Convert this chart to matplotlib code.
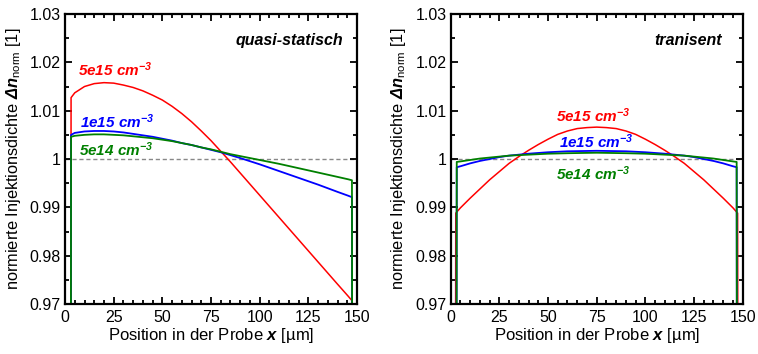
import numpy as np
import matplotlib.pyplot as plt
from matplotlib.ticker import MultipleLocator, FormatStrFormatter

plt.rcParams.update({
    "font.family": ["Liberation Sans", "DejaVu Sans"],
    "mathtext.fontset": "custom",
    "mathtext.rm": "Liberation Sans",
    "mathtext.it": "Liberation Sans:italic",
    "mathtext.bf": "Liberation Sans:bold",
    "mathtext.bfit": "Liberation Sans:bold:italic",
    "font.size": 11,
})

RED, BLUE, GREEN = "#ff0000", "#0000ff", "#008000"

# ---- quasi-statisch (left) ----
qs_x = [3.0, 3.1, 5, 10, 15, 20, 25, 30, 35, 40, 45, 50, 55, 60, 65, 70, 75, 80, 85, 90,
        100, 110, 120, 130, 140, 145.5, 147.4, 147.5]
qs_red = [0.96, 1.0127, 1.0137, 1.0150, 1.0156, 1.0158, 1.0157, 1.0153, 1.0148, 1.0141, 1.0132,
          1.0122, 1.0109, 1.0094, 1.0077, 1.0058, 1.0038, 1.0016, 0.9994, 0.9971,
          0.9925, 0.9879, 0.9833, 0.9787, 0.9741, 0.9716, 0.9707, 0.96]
qs_blue = [0.96, 1.0050, 1.0054, 1.0057, 1.0058, 1.0058, 1.0057, 1.0055, 1.0052, 1.0049, 1.0046,
           1.0042, 1.0038, 1.0033, 1.0029, 1.0024, 1.0019, 1.0014, 1.0008, 1.0002,
           0.9989, 0.9975, 0.9961, 0.9947, 0.9932, 0.9924, 0.9921, 0.96]
qs_green = [0.96, 1.0046, 1.0048, 1.0050, 1.0051, 1.0051, 1.0050, 1.0049, 1.0047, 1.0045, 1.0043,
            1.0040, 1.0037, 1.0033, 1.0029, 1.0024, 1.0020, 1.0015, 1.0010, 1.0006,
            0.9998, 0.9990, 0.9981, 0.9972, 0.9963, 0.9958, 0.9956, 0.96]

# ---- tranisent (right) ----
tr_x = [2.5, 2.6, 5, 10, 15, 20, 25, 30, 35, 40, 45, 50, 55, 60, 65, 70, 75,
        80, 85, 90, 95, 100, 105, 110, 115, 120, 125, 130, 135, 140, 145, 147.4, 147.5]
tr_red = [0.96, 0.9888, 0.9899, 0.9919, 0.9938, 0.9957, 0.9974, 0.9991, 1.0005, 1.0018, 1.0030, 1.0041,
          1.0051, 1.0058, 1.0063, 1.0065, 1.0066,
          1.0065, 1.0063, 1.0058, 1.0051, 1.0041, 1.0030, 1.0018, 1.0005, 0.9991, 0.9974, 0.9957,
          0.9938, 0.9919, 0.9899, 0.9888, 0.96]
tr_xb = [3.0, 3.1, 5, 10, 15, 20, 25, 30, 40, 50, 60, 75, 90, 100, 110, 120, 125, 130, 135, 140, 145, 146.9, 147.0]
tr_blue = [0.96, 0.9983, 0.9985, 0.9991, 0.9996, 1.0000, 1.0004, 1.0007, 1.0011, 1.0014, 1.0016, 1.0017,
           1.0016, 1.0014, 1.0011, 1.0007, 1.0004, 1.0000, 0.9996, 0.9991, 0.9985, 0.9983, 0.96]
tr_green = [0.96, 0.9994, 0.9995, 0.9998, 1.0001, 1.0003, 1.0005, 1.0007, 1.0009, 1.0011, 1.0012, 1.0013,
            1.0012, 1.0011, 1.0009, 1.0007, 1.0005, 1.0003, 1.0001, 0.9998, 0.9995, 0.9994, 0.96]

lab15 = r"$\mathbfit{5e15\ cm^{-3}}$"
lab1e = r"$\mathbfit{1e15\ cm^{-3}}$"
lab14 = r"$\mathbfit{5e14\ cm^{-3}}$"

fig = plt.figure(figsize=(7.58, 3.54), dpi=100)
ax1 = fig.add_axes([0.0858, 0.1412, 0.3852, 0.8192])
ax2 = fig.add_axes([0.5946, 0.1412, 0.3852, 0.8192])


def style(ax):
    ax.set_xlim(0, 150)
    ax.set_ylim(0.97, 1.03)
    ax.axhline(1.0, color="#888888", lw=1.0, ls=(0, (3, 2)), zorder=1)
    ax.xaxis.set_major_locator(MultipleLocator(25))
    ax.xaxis.set_minor_locator(MultipleLocator(5))
    ax.yaxis.set_major_locator(MultipleLocator(0.01))
    ax.yaxis.set_minor_locator(MultipleLocator(0.005))
    ax.yaxis.set_major_formatter(FormatStrFormatter("%g"))
    ax.tick_params(which="both", direction="in", top=True, right=True, width=1.3, labelsize=11.5)
    ax.tick_params(which="major", length=5)
    ax.tick_params(which="minor", length=3)
    ax.tick_params(axis="y", pad=3)
    ax.tick_params(axis="x", pad=4)
    for s in ax.spines.values():
        s.set_linewidth(1.6)
    ax.set_xlabel(r"Position in der Probe $\mathbfit{x}$ [µm]", fontsize=12, labelpad=1)
    ax.set_ylabel(r"normierte Injektionsdichte $\mathbfit{\Delta n}_{\mathrm{norm}}$ [1]", fontsize=11.75, labelpad=5)


style(ax1)
ax1.plot(qs_x, qs_red, color=RED, lw=1.1)
ax1.plot(qs_x, qs_blue, color=BLUE, lw=1.3)
ax1.plot(qs_x, qs_green, color=GREEN, lw=1.3)
ax1.text(6.8, 1.0184, lab15, color=RED, fontsize=11, va="center")
ax1.text(7.7, 1.0077, lab1e, color=BLUE, fontsize=11, va="center")
ax1.text(7.2, 1.0019, lab14, color=GREEN, fontsize=11, va="center")
ax1.text(142.8, 1.0246, "quasi-statisch", fontsize=11.5, fontweight="bold", fontstyle="italic",
         ha="right", va="center")

style(ax2)
ax2.plot(tr_x, tr_red, color=RED, lw=1.1)
ax2.plot(tr_xb, tr_blue, color=BLUE, lw=1.3)
ax2.plot(tr_xb, tr_green, color=GREEN, lw=1.3)
ax2.text(73.3, 1.0089, lab15, color=RED, fontsize=11, ha="center", va="center")
ax2.text(74.5, 1.0036, lab1e, color=BLUE, fontsize=11, ha="center", va="center")
ax2.text(73.0, 0.9970, lab14, color=GREEN, fontsize=11, ha="center", va="center")
ax2.text(139.2, 1.0246, "tranisent", fontsize=11.5, fontweight="bold", fontstyle="italic",
         ha="right", va="center")

fig.savefig("out.png", dpi=100)
